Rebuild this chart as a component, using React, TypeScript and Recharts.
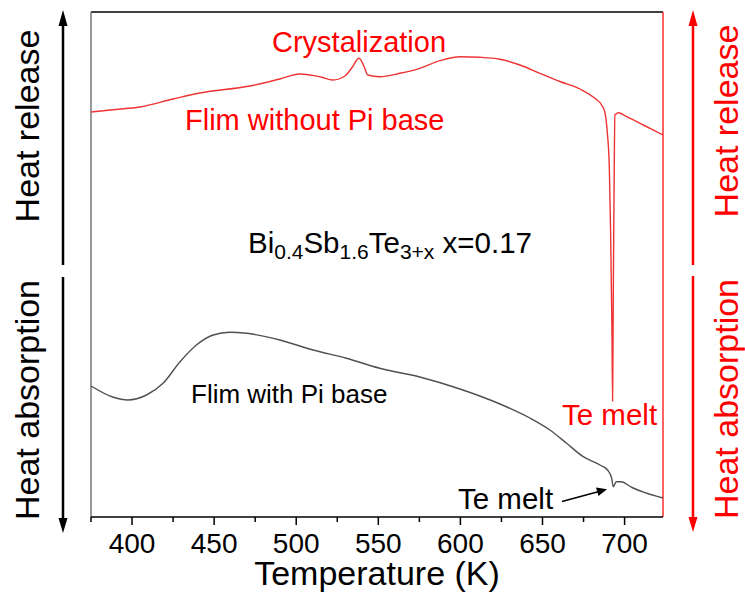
import React from 'react';
import { LineChart, Line, XAxis, YAxis, ReferenceLine } from 'recharts';

// temperature (K) and signal height for the film without PI base (red)
const redT = [375, 390, 404.7, 425, 441.3, 471.7, 490, 502.2, 515, 522.3, 529.6, 533.8, 538.3, 541.2, 543.6, 550.9, 563.1, 575.3, 587.5, 599.7, 611.9, 624.1, 636.3, 648.4, 660.6, 672.8, 681.9, 686.0, 688.1, 689.5, 690.7, 691.5, 692.3, 692.7, 693.1, 693.7, 694.1, 696.2, 701.3, 711.4, 723.4];
const redH = [405, 407.5, 410, 418, 424, 431, 438, 443, 440, 437, 441, 449, 458.7, 451, 442, 440.3, 443.7, 448.7, 456.3, 460.3, 459.7, 457.7, 452, 443.7, 435.5, 428, 418.7, 412, 404, 384, 350, 284, 187, 116, 217, 350, 402, 404.3, 400.3, 392, 382];

// film with PI base (black)
const blackT = [375, 388.2, 397.4, 408.8, 418.9, 429.1, 439.2, 449.4, 459.5, 469.7, 490, 510.3, 530.6, 550.9, 575.3, 599.7, 624.1, 642.3, 654.5, 664.7, 674.8, 685, 689.6, 692.1, 693.1, 694.9, 697.8, 704.5, 712.4, 723.4];
const blackH = [131, 120, 117, 122, 133.7, 155, 172, 182, 184.7, 183.7, 177, 167, 158.7, 148.7, 140, 128, 113, 99, 87, 73.7, 60.3, 52, 47, 39, 30.3, 35.3, 35.3, 29.5, 24.3, 19];

const xTicks = [375, 400, 425, 450, 475, 500, 525, 550, 575, 600, 625, 650, 675, 700];

const redData = redT.map((T, i) => ({ T, v: redH[i] }));
const blackData = blackT.map((T, i) => ({ T, v: blackH[i] }));

const FONT = '"Liberation Sans", Arial, sans-serif';
const RED = '#ff0000';

const AxisTick = ({ x, y, payload }: any) => {
  const major = payload.value % 50 === 0;
  return (
    <g>
      <line x1={x} x2={x} y1={y} y2={y + (major ? 8 : 5)} stroke="#000" strokeWidth={1.5} />
      {major && (
        <text x={x} y={y + 36} textAnchor="middle" fontSize={28} fontFamily={FONT} fill="#000">
          {payload.value}
        </text>
      )}
    </g>
  );
};

const Overlay = () => (
  <svg width={745} height={599} style={{ position: 'absolute', left: 0, top: 0, pointerEvents: 'none' }} fontFamily={FONT}>
    {/* left side arrows */}
    <line x1={63} y1={265} x2={63} y2={24} stroke="#000" strokeWidth={2.5} />
    <polygon points="63,10 58.5,26 67.5,26" fill="#000" />
    <line x1={63} y1={277} x2={63} y2={520} stroke="#000" strokeWidth={2.5} />
    <polygon points="63,533 58.5,518 67.5,518" fill="#000" />
    <text transform="translate(39,126) rotate(-90)" textAnchor="middle" fontSize={34} fill="#000">Heat release</text>
    <text transform="translate(39,400) rotate(-90)" textAnchor="middle" fontSize={34} fill="#000">Heat absorption</text>

    {/* right side arrows */}
    <line x1={693} y1={265} x2={693} y2={24} stroke={RED} strokeWidth={2.5} />
    <polygon points="693,10 688.5,26 697.5,26" fill={RED} />
    <line x1={693} y1={276} x2={693} y2={519} stroke={RED} strokeWidth={2.5} />
    <polygon points="693,532 688.5,517 697.5,517" fill={RED} />
    <text transform="translate(738,121) rotate(-90)" textAnchor="middle" fontSize={34} fill={RED}>Heat release</text>
    <text transform="translate(738,399) rotate(-90)" textAnchor="middle" fontSize={34} fill={RED}>Heat absorption</text>

    {/* annotations */}
    <text x={272} y={52} fontSize={29} fill={RED}>Crystalization</text>
    <text x={185} y={130} fontSize={29} fill={RED}>Flim without Pi base</text>
    <text x={248} y={253} fontSize={29.5} fill="#000">
      Bi<tspan fontSize={21} dy={6}>0.4</tspan>
      <tspan dy={-6}>Sb</tspan><tspan fontSize={21} dy={6}>1.6</tspan>
      <tspan dy={-6}>Te</tspan><tspan fontSize={21} dy={6}>3+x</tspan>
      <tspan dy={-6}> x=0.17</tspan>
    </text>
    <text x={191} y={403} fontSize={26} fill="#000">Flim with Pi base</text>
    <text x={562} y={425} fontSize={29.5} fill={RED}>Te melt</text>
    <text x={458} y={509} fontSize={29.5} fill="#000">Te melt</text>
    <line x1={562} y1={501.5} x2={598} y2={491.8} stroke="#000" strokeWidth={1.5} />
    <polygon points="607,489.3 596,487.5 598.5,496" fill="#000" />

    <text x={377} y={585} textAnchor="middle" fontSize={34} fill="#000">Temperature (K)</text>
  </svg>
);

export default function App() {
  return (
    <div style={{ position: 'absolute', left: 0, top: 0, width: 745, height: 599, background: '#fff' }}>
      <LineChart width={745} height={599} margin={{ top: 12, left: 91, right: 82, bottom: 22 }}>
        <XAxis
          dataKey="T"
          type="number"
          domain={[375, 723.4]}
          allowDataOverflow
          ticks={xTicks}
          interval={0}
          height={60}
          tickSize={0}
          tickMargin={0}
          tickLine={false}
          tick={<AxisTick />}
          axisLine={{ stroke: '#000', strokeWidth: 1.5 }}
        />
        <YAxis hide type="number" domain={[0, 505]} allowDataOverflow />
        <ReferenceLine y={505} stroke="#000" strokeWidth={1.5} />
        <ReferenceLine x={375} stroke="#777" strokeWidth={1.5} />
        <ReferenceLine x={723.4} stroke="#ff3030" strokeWidth={1.5} />
        <Line data={blackData} dataKey="v" type="monotone" stroke="#505050" strokeWidth={1.4} dot={false} isAnimationActive={false} />
        <Line data={redData} dataKey="v" type="monotone" stroke="#ee3333" strokeWidth={1.4} dot={false} isAnimationActive={false} />
      </LineChart>
      <Overlay />
    </div>
  );
}
